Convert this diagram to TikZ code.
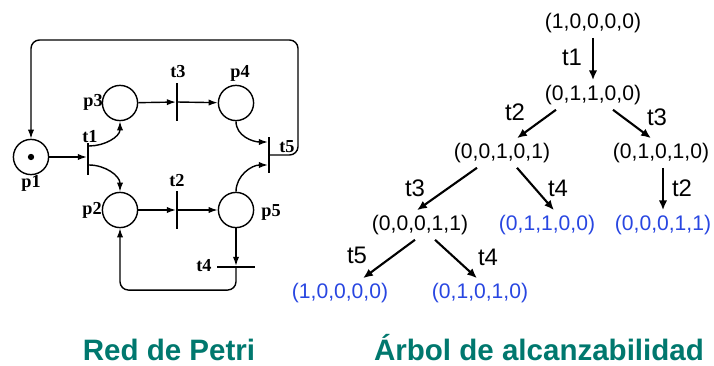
\documentclass[tikz,border=0pt]{standalone}
\usepackage{fontspec}
\setmainfont{Liberation Serif}
\setsansfont{Liberation Sans}
\usetikzlibrary{arrows.meta,calc}
\definecolor{titlegreen}{RGB}{0,120,110}
\definecolor{leafblue}{RGB}{40,70,225}
\tikzstyle{place}=[circle, draw=black, line width=1pt, minimum size=0.88cm, inner sep=0pt]
\tikzstyle{vtrans}=[rectangle, fill=black, minimum width=1.1pt, minimum height=0.95cm, inner sep=0pt]
\tikzstyle{htrans}=[rectangle, fill=black, minimum width=0.96cm, minimum height=1.1pt, inner sep=0pt]
\tikzstyle{token}=[circle, fill=black, minimum size=4.5pt, inner sep=0pt]
\tikzstyle{flow}=[line width=1pt, -{Latex[length=6.5pt,width=4.5pt]}]
\tikzstyle{lbl}=[font=\fontsize{13}{15}\selectfont\bfseries, inner sep=1pt]
\tikzstyle{marking}=[font=\sffamily\fontsize{15}{18}\selectfont]
\tikzstyle{leaf}=[marking, text=leafblue]
\tikzstyle{fire}=[line width=1.5pt, -{Latex[length=7pt,width=6pt]}]
\tikzstyle{tlab}=[font=\sffamily\fontsize{17}{20}\selectfont, inner sep=0pt]
\tikzstyle{heading}=[font=\sffamily\bfseries\fontsize{21}{25}\selectfont, text=titlegreen, anchor=base]

\begin{document}
\begin{tikzpicture}[x=0.025cm, y=-0.025cm]
	\useasboundingbox (0,0) rectangle (714,366);

	% places and transitions
	\node[place] (p1) at (31,157) {};
	\node[token] (tok) at (p1) {};
	\node[place] (p3) at (120,103) {};
	\node[place] (p4) at (236,103) {};
	\node[place] (p2) at (120,210) {};
	\node[place] (p5) at (236,210) {};
	\node[vtrans, minimum height=0.82cm] (t1) at (88,159) {};
	\node[vtrans] (t3) at (177,102) {};
	\node[vtrans] (t2) at (177,210) {};
	\node[vtrans, minimum height=0.88cm] (t5) at (269,155) {};
	\node[htrans] (t4) at (236,267) {};

	\node[lbl] (lp1) at (31,183) {p1};
	\node[lbl] (lp2) at (92,210) {p2};
	\node[lbl] (lp3) at (93,102) {p3};
	\node[lbl] (lp4) at (240,73) {p4};
	\node[lbl] (lp5) at (271,212) {p5};
	\node[lbl] (lt1) at (90,137) {t1};
	\node[lbl] (lt2) at (177,181) {t2};
	\node[lbl] (lt3) at (178,72) {t3};
	\node[lbl] (lt4) at (204,266) {t4};
	\node[lbl] (lt5) at (287,147) {t5};

	% arcs
	\draw[flow] (p1.east) -- (p1.east -| t1.west);
	\draw[flow] ($(t1.east)+(0,-13)$) to[out=0,in=-90] (p3.south);
	\draw[flow] ($(t1.east)+(0,6)$) to[out=0,in=90] (p2.north);
	\draw[flow] (p3) -- (t3);
	\draw[flow] (t3) -- (p4);
	\draw[flow] (p2) -- (t2);
	\draw[flow] (t2) -- (p5);
	\draw[flow] (p4.south) to[out=-90,in=180] ($(t5.west)+(0,-13)$);
	\draw[flow] (p5.north) to[out=90,in=180] ($(t5.west)+(0,10)$);
	\draw[flow, rounded corners=6pt] (t5.east) -| (298,40) -| (p1.north);
	\draw[flow] (p5) -- (t4);
	\draw[flow, rounded corners=6pt] (t4.south) -- ++(0,22) -| (p2.south);

	% reachability tree
	\node[marking] (m0) at (593,23) {(1,0,0,0,0)};
	\node[marking] (m1) at (593,95) {(0,1,1,0,0)};
	\node[marking] (m2) at (502,153) {(0,0,1,0,1)};
	\node[marking] (m3) at (661,153) {(0,1,0,1,0)};
	\node[marking] (m4) at (420,225) {(0,0,0,1,1)};
	\node[leaf] (m5) at (547,225) {(0,1,1,0,0)};
	\node[leaf] (m6) at (663,225) {(0,0,0,1,1)};
	\node[leaf] (m7) at (340,293) {(1,0,0,0,0)};
	\node[leaf] (m8) at (480,293) {(0,1,0,1,0)};

	\draw[fire] (m0) -- (m1);
	\draw[fire] ($(m1.south)+(-37,0)$) -- ($(m2.north)+(15,0)$);
	\draw[fire] ($(m1.south)+(20,0)$) -- ($(m3.north)+(-10,0)$);
	\draw[fire] ($(m2.south)+(-25,0)$) -- ($(m4.north)+(-3,0)$);
	\draw[fire] ($(m2.south)+(15,0)$) -- ($(m5.north)+(7,0)$);
	\draw[fire] (m6.north |- m3.south) -- (m6.north);
	\draw[fire] ($(m4.south)+(-5,0)$) -- ($(m7.north)+(23,0)$);
	\draw[fire] ($(m4.south)+(15,0)$) -- ($(m8.north)+(-3,0)$);

	\node[tlab] (f1) at (572,57) {t1};
	\node[tlab] (f2) at (515,112) {t2};
	\node[tlab] (f3) at (657,117) {t3};
	\node[tlab] (f4) at (415,188) {t3};
	\node[tlab] (f5) at (558,188) {t4};
	\node[tlab] (f6) at (682,188) {t2};
	\node[tlab] (f7) at (357,255) {t5};
	\node[tlab] (f8) at (488,257) {t4};

	\node[heading] (hpn) at (169,360) {Red de Petri};
	\node[heading] (htree) at (539,360) {Árbol de alcanzabilidad};
\end{tikzpicture}
\end{document}
